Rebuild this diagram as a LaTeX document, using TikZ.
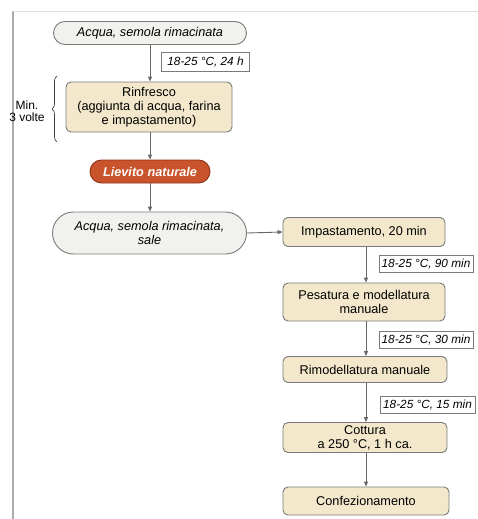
\documentclass[tikz,border=0pt]{standalone}
\usepackage{fontspec}
\setmainfont{Liberation Sans}
\usetikzlibrary{arrows.meta,decorations.pathreplacing}

\definecolor{edgegray}{HTML}{7A7A7A}
\definecolor{arrowgray}{HTML}{666666}
\definecolor{stepfill}{HTML}{F3E8CB}
\definecolor{inputfill}{HTML}{F1F1EE}
\definecolor{yeastfill}{HTML}{C9542B}
\definecolor{yeastedge}{HTML}{8E3418}
\definecolor{framegray}{HTML}{ABABAB}

\tikzset{
  base/.style={inner sep=0pt, align=center, line width=0.9pt},
  stepbox/.style={base, draw=edgegray, fill=stepfill, rounded corners=5pt,
    font=\fontsize{12.7}{13.8}\selectfont},
  inputbox/.style={base, draw=edgegray, fill=inputfill,
    font=\fontsize{12.7}{13.8}\selectfont\itshape},
  yeastbox/.style={base, draw=yeastedge, fill=yeastfill, text=white,
    font=\fontsize{12.7}{13.8}\selectfont\bfseries\itshape},
  condbox/.style={base, draw=edgegray, fill=white, line width=0.7pt,
    font=\fontsize{11.8}{13}\selectfont\itshape},
  flow/.style={draw=arrowgray, line width=0.9pt,
    -{Triangle[length=5pt,width=4pt]}},
}

\begin{document}
\begin{tikzpicture}[x=1pt,y=-1pt]
\useasboundingbox (0,0) rectangle (478,519);

% page frame
\draw[framegray, line width=2pt] (13,11) -- (13,519);
\draw[black!12, line width=0.8pt] (13,11) -- (478,11);

% left column: starter preparation
\node[inputbox, rounded corners=11.5pt, minimum width=193pt, minimum height=23pt]
  (water1) at (150,33) {Acqua, semola rimacinata};
\node[condbox, minimum width=88pt, minimum height=19pt]
  (cond1) at (205.5,62) {18-25 °C, 24 h};
\node[stepbox, minimum width=166pt, minimum height=50pt]
  (refresh) at (149,107) {Rinfresco\\(aggiunta di acqua, farina\\e impastamento)};
\node[yeastbox, rounded corners=11.5pt, minimum width=120pt, minimum height=23pt]
  (yeast) at (150,171.5) {Lievito naturale};
\node[inputbox, rounded corners=21pt, minimum width=194pt, minimum height=42pt]
  (water2) at (149.5,233) {Acqua, semola rimacinata,\\sale};

% repetition brace
\coordinate (braceBot) at (57,142);
\coordinate (braceTop) at (57,76);
\draw[black!75, line width=0.7pt, decorate, decoration={brace, amplitude=5pt}]
  (braceBot) -- (braceTop);
\node[align=center, inner sep=0pt,
  font=\fontsize{12}{12.5}\selectfont] (times) at (27,111) {Min.\\3 volte};

% right column: dough processing
\node[stepbox, minimum width=162pt, minimum height=29pt]
  (knead) at (364,232) {Impastamento, 20 min};
\node[condbox, minimum width=94pt, minimum height=17pt]
  (cond2) at (426,264) {18-25 °C, 90 min};
\node[stepbox, minimum width=162pt, minimum height=38pt]
  (shape) at (364,302) {Pesatura e modellatura\\manuale};
\node[condbox, minimum width=94pt, minimum height=17pt]
  (cond3) at (426,340) {18-25 °C, 30 min};
\node[stepbox, minimum width=164pt, minimum height=26pt]
  (reshape) at (365,369.5) {Rimodellatura manuale};
\node[condbox, minimum width=95pt, minimum height=17pt]
  (cond4) at (427.5,405) {18-25 °C, 15 min};
\node[stepbox, minimum width=164pt, minimum height=30pt]
  (bake) at (365,437.5) {Cottura\\a 250 °C, 1 h ca.};
\node[stepbox, minimum width=166pt, minimum height=28pt]
  (pack) at (366,501) {Confezionamento};

% connectors
\draw[flow] (water1.south -| 150,0) -- (refresh.north -| 150,0);
\draw[flow] (refresh.south -| 150,0) -- (yeast.north -| 150,0);
\draw[flow] (yeast.south -| 150,0) -- (water2.north -| 150,0);
\draw[flow] (water2.east) -- (knead.west);
\draw[flow] (knead.south -| 366,0) -- (shape.north -| 366,0);
\draw[flow] (shape.south -| 366,0) -- (reshape.north -| 366,0);
\draw[flow] (reshape.south -| 366,0) -- (bake.north -| 366,0);
\draw[flow] (bake.south -| 366,0) -- (pack.north -| 366,0);
\end{tikzpicture}
\end{document}
